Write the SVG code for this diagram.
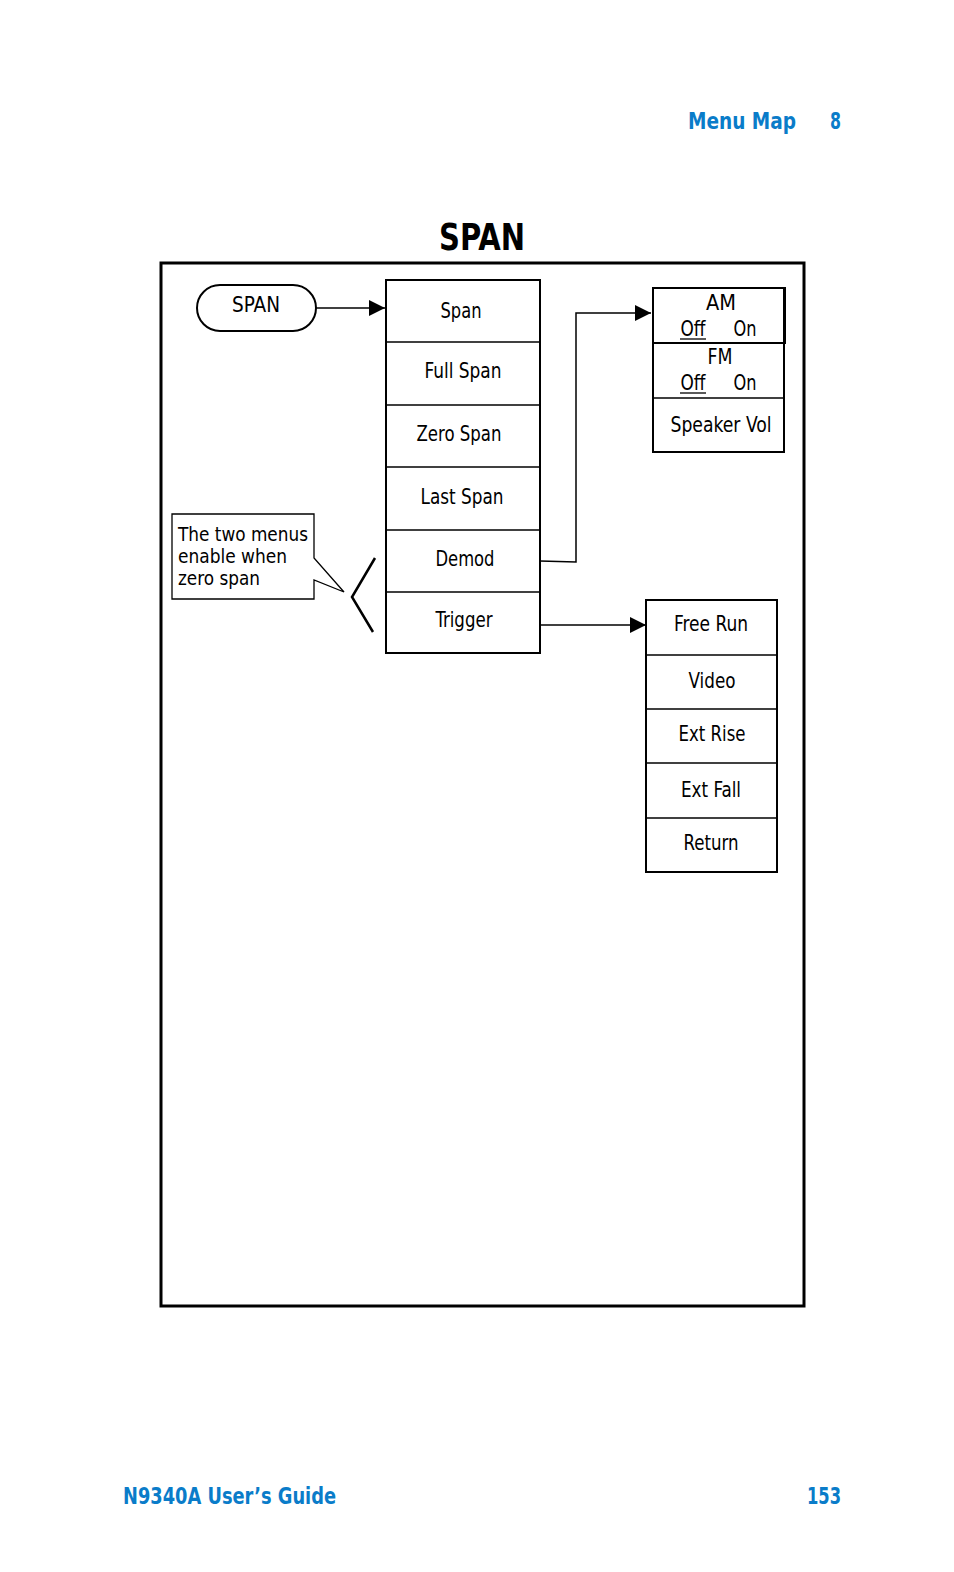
<svg xmlns="http://www.w3.org/2000/svg" width="954" height="1572" viewBox="0 0 954 1572">
<style>
text{font-family:"DejaVu Sans Condensed","Liberation Sans",sans-serif;fill:#000}
.m{font-size:21px;text-anchor:middle}
.hd{font-weight:bold;fill:#0a7cc9;font-size:23px}
.box{fill:#fff;stroke:#000;stroke-width:2}
.div{stroke:#000;stroke-width:1.3;fill:none}
.conn{stroke:#000;stroke-width:1.5;fill:none}
</style>
<defs>
<marker id="ah" markerWidth="16" markerHeight="16" refX="16" refY="8" orient="auto" markerUnits="userSpaceOnUse">
<path d="M0,0 L16,8 L0,16 Z" fill="#000"/>
</marker>
</defs>
<rect width="954" height="1572" fill="#fff"/>
<g id="header">
<text class="hd" x="688" y="129" textLength="108" lengthAdjust="spacingAndGlyphs">Menu Map</text>
<text class="hd" x="830" y="129" textLength="11" lengthAdjust="spacingAndGlyphs">8</text>
</g>
<g id="footer">
<text class="hd" x="123" y="1504" textLength="213" lengthAdjust="spacingAndGlyphs">N9340A User’s Guide</text>
<text class="hd" x="807" y="1504" textLength="34" lengthAdjust="spacingAndGlyphs">153</text>
</g>
<text id="title" x="439" y="250" font-weight="bold" font-size="38" textLength="86" lengthAdjust="spacingAndGlyphs">SPAN</text>
<rect id="frame" x="161" y="263" width="643" height="1043" fill="none" stroke="#000" stroke-width="3"/>

<g id="connectors">
<line class="conn" x1="316" y1="308" x2="385" y2="308" marker-end="url(#ah)"/>
<polyline class="conn" points="540,561 576,562 576,313 651,313" stroke-width="2" marker-end="url(#ah)"/>
<line class="conn" x1="541" y1="625" x2="646" y2="625" marker-end="url(#ah)"/>
</g>

<g id="span-key">
<rect class="box" x="197" y="285" width="119" height="46" rx="23" ry="23" stroke-width="1.5"/>
<text class="m" x="256" y="312" textLength="48" lengthAdjust="spacingAndGlyphs">SPAN</text>
</g>

<g id="span-menu">
<rect class="box" x="386" y="280" width="154" height="373"/>
<line class="div" x1="386" y1="342" x2="540" y2="342"/>
<line class="div" x1="386" y1="405" x2="540" y2="405" stroke-width="2"/>
<line class="div" x1="386" y1="467" x2="540" y2="467" stroke-width="2"/>
<line class="div" x1="386" y1="530" x2="540" y2="530" stroke-width="2"/>
<line class="div" x1="386" y1="592" x2="540" y2="592" stroke-width="2"/>
<text class="m" x="461" y="318" textLength="41" lengthAdjust="spacingAndGlyphs">Span</text>
<text class="m" x="463" y="378" textLength="77" lengthAdjust="spacingAndGlyphs">Full Span</text>
<text class="m" x="459" y="441" textLength="85" lengthAdjust="spacingAndGlyphs">Zero Span</text>
<text class="m" x="462" y="504" textLength="83" lengthAdjust="spacingAndGlyphs">Last Span</text>
<text class="m" x="465" y="566" textLength="59" lengthAdjust="spacingAndGlyphs">Demod</text>
<text class="m" x="464" y="627" textLength="57" lengthAdjust="spacingAndGlyphs">Trigger</text>
</g>

<g id="demod-menu">
<rect class="box" x="653" y="288" width="131" height="164" stroke-width="1.5"/>
<rect x="653" y="288" width="132" height="55" fill="none" stroke="#000" stroke-width="2"/>
<line class="div" x1="653" y1="398" x2="784" y2="398"/>
<text class="m" x="721" y="310" textLength="30" lengthAdjust="spacingAndGlyphs">AM</text>
<text class="m" x="693" y="336" textLength="25" lengthAdjust="spacingAndGlyphs">Off</text>
<line x1="680" y1="339" x2="706" y2="339" stroke="#000" stroke-width="1.3"/>
<text class="m" x="745" y="336" textLength="23" lengthAdjust="spacingAndGlyphs">On</text>
<text class="m" x="720" y="364" textLength="25" lengthAdjust="spacingAndGlyphs">FM</text>
<text class="m" x="693" y="390" textLength="25" lengthAdjust="spacingAndGlyphs">Off</text>
<line x1="680" y1="393" x2="706" y2="393" stroke="#000" stroke-width="1.3"/>
<text class="m" x="745" y="390" textLength="23" lengthAdjust="spacingAndGlyphs">On</text>
<text class="m" x="721" y="432" textLength="101" lengthAdjust="spacingAndGlyphs">Speaker Vol</text>
</g>

<g id="trigger-menu">
<rect class="box" x="646" y="600" width="131" height="272"/>
<line class="div" x1="646" y1="655" x2="777" y2="655" stroke-width="2"/>
<line class="div" x1="646" y1="709" x2="777" y2="709"/>
<line class="div" x1="646" y1="763" x2="777" y2="763" stroke-width="2"/>
<line class="div" x1="646" y1="818" x2="777" y2="818" stroke-width="2"/>
<text class="m" x="711" y="631" textLength="74" lengthAdjust="spacingAndGlyphs">Free Run</text>
<text class="m" x="712" y="688" textLength="47" lengthAdjust="spacingAndGlyphs">Video</text>
<text class="m" x="712" y="741" textLength="67" lengthAdjust="spacingAndGlyphs">Ext Rise</text>
<text class="m" x="711" y="797" textLength="60" lengthAdjust="spacingAndGlyphs">Ext Fall</text>
<text class="m" x="711" y="850" textLength="55" lengthAdjust="spacingAndGlyphs">Return</text>
</g>

<g id="callout">
<path d="M172,514 H314 V558 L344,592 L314,580 V599 H172 Z" fill="#fff" stroke="#000" stroke-width="1.3"/>
<text x="178" y="541" font-size="20" textLength="130" lengthAdjust="spacingAndGlyphs">The two menus</text>
<text x="178" y="563" font-size="20" textLength="109" lengthAdjust="spacingAndGlyphs">enable when</text>
<text x="178" y="585" font-size="20" textLength="82" lengthAdjust="spacingAndGlyphs">zero span</text>
</g>
<g id="bracket">
<polyline points="375,558 352,597 373,632" fill="none" stroke="#000" stroke-width="2.5"/>
</g>
</svg>
